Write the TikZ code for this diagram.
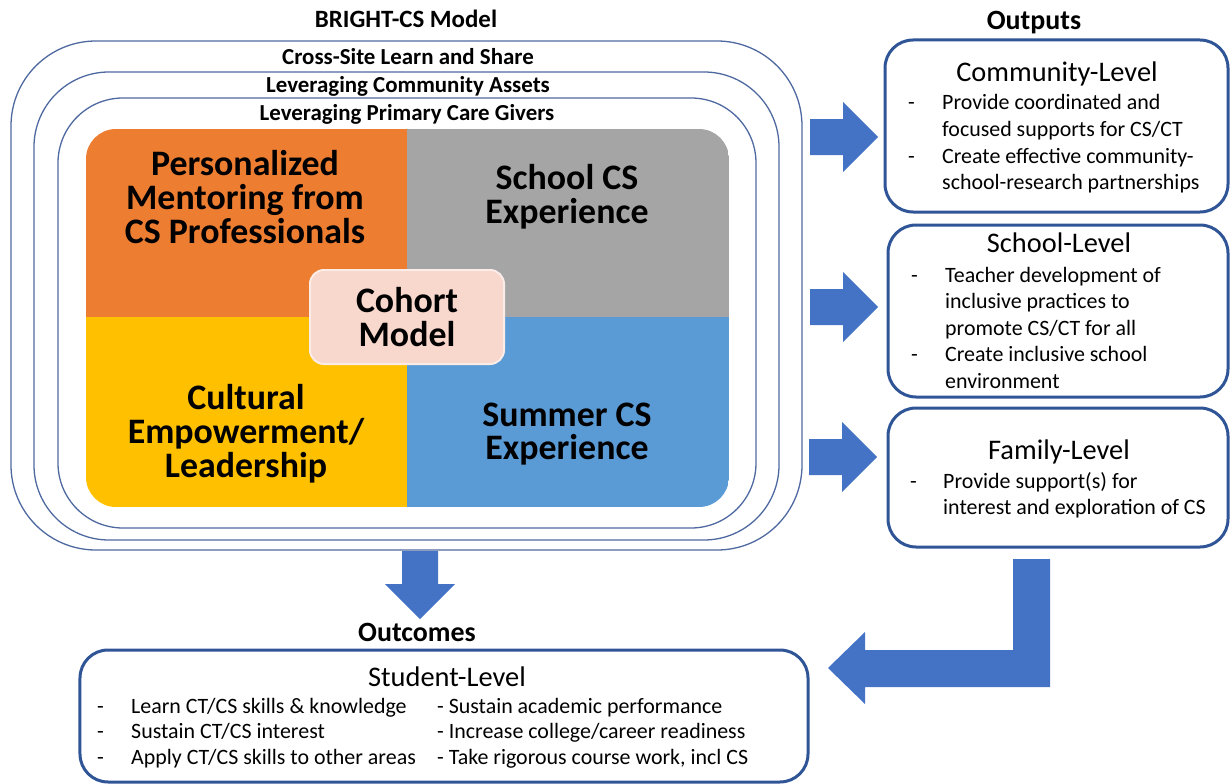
\documentclass[tikz,border=0pt]{standalone}
\usepackage{fontspec}
\setmainfont{Carlito}
\usepackage{array}

\definecolor{ringline}{RGB}{78,104,160}
\definecolor{boxline}{RGB}{47,85,151}
\definecolor{arrowblue}{RGB}{68,114,196}
\definecolor{mentorc}{RGB}{237,125,49}
\definecolor{schoolc}{RGB}{165,165,165}
\definecolor{culturec}{RGB}{255,192,0}
\definecolor{summerc}{RGB}{91,155,213}
\definecolor{cohortc}{RGB}{248,215,205}

\newcommand{\txtsize}[2]{\fontsize{#1}{#2}\selectfont}

\begin{document}
\begin{tikzpicture}[x=1bp,y=-1bp,
  ring/.style={draw=ringline,line width=1.3bp,rounded corners=#1,inner sep=0pt},
  outbox/.style={draw=boxline,line width=3bp,rounded corners=28bp,inner sep=0pt},
  headlbl/.style={font=\bfseries\txtsize{25}{28},anchor=base,inner sep=0pt},
  striplbl/.style={font=\bfseries\txtsize{23}{26},anchor=base,inner sep=0pt},
  quadlbl/.style={font=\bfseries\txtsize{36}{34},align=center,inner sep=0pt},
  boxtitle/.style={font=\txtsize{28.5}{31},anchor=base,inner sep=0pt},
  listlbl/.style={font=\txtsize{22}{26.7},anchor=base west,inner sep=0pt},
  rarrow/.pic={\fill[arrowblue] (-34,-18) -- (-1,-18) -- (-1,-35) -- (34,0)
    -- (-1,35) -- (-1,18) -- (-34,18) -- cycle;}]
\useasboundingbox (0,0) rectangle (1230,784);

% headings
\node[headlbl] (modelhead) at (406,28) {BRIGHT-CS Model};
\node[headlbl,font=\bfseries\txtsize{28}{30}] (outhead) at (1034,30) {Outputs};
\node[headlbl,font=\bfseries\txtsize{28}{30}] (outchead) at (417,641) {Outcomes};

% nested rings round the model
\node[ring=85bp,minimum width=791bp,minimum height=509bp] (cross) at (406.5,295.5) {};
\node[ring=75bp,minimum width=745bp,minimum height=468bp] (assets) at (406.5,306) {};
\node[ring=65bp,minimum width=698bp,minimum height=430bp] (carers) at (407,313) {};
\node[striplbl] (crosslbl) at (408,65) {Cross-Site Learn and Share};
\node[striplbl] (assetslbl) at (408,93) {Leveraging Community Assets};
\node[striplbl] (carerslbl) at (407,121) {Leveraging Primary Care Givers};

% the four quadrants
\begin{scope}
  \clip[rounded corners=30bp] (86,129) rectangle (729,507);
  \fill[mentorc] (86,129) rectangle (407,317);
  \fill[schoolc] (407,129) rectangle (729,317);
  \fill[culturec] (86,317) rectangle (407,507);
  \fill[summerc] (407,317) rectangle (729,507);
\end{scope}
\node[quadlbl] (mentor) at (245,197) {Personalized\\Mentoring from\\CS Professionals};
\node[quadlbl] (school) at (567,197) {School CS\\Experience};
\node[quadlbl] (culture) at (246,434) {Cultural\\Empowerment/\\Leadership};
\node[quadlbl] (summer) at (567,434) {Summer CS\\Experience};
\node[quadlbl,fill=cohortc,draw={rgb,255:red,252;green,236;blue,231},line width=2bp,
  rounded corners=14bp,minimum width=194bp,minimum height=94bp] (cohort) at (407,317) {Cohort\\Model};

% outputs
\node[outbox,minimum width=343bp,minimum height=172bp] (commbox) at (1056.5,126) {};
\node[boxtitle] (commttl) at (1057,82) {Community-Level};
\node[listlbl] (commlist) at (908,110) {\begin{tabular}[t]{@{}p{34bp}@{}l@{}}
  - & Provide coordinated and\\
    & focused supports for CS/CT\\
  - & Create effective community-\\
    & school-research partnerships
\end{tabular}};

\node[outbox,minimum width=340bp,minimum height=172bp] (schoolbox) at (1058,311) {};
\node[boxtitle] (schoolttl) at (1059,252) {School-Level};
\node[listlbl] (schoollist) at (911,282) {\begin{tabular}[t]{@{}p{34bp}@{}l@{}}
  - & Teacher development of\\
    & inclusive practices to\\
    & promote CS/CT for all\\
  - & Create inclusive school\\
    & environment
\end{tabular}};

\node[outbox,minimum width=340bp,minimum height=139bp] (familybox) at (1058,477.5) {};
\node[boxtitle] (familyttl) at (1059,459) {Family-Level};
\node[listlbl] (familylist) at (910,488) {\begin{tabular}[t]{@{}p{33bp}@{}l@{}}
  - & Provide support(s) for\\
    & interest and exploration of CS
\end{tabular}};

% outcomes
\node[outbox,minimum width=728bp,minimum height=132bp] (studentbox) at (444,716) {};
\node[boxtitle] (studentttl) at (447,686) {Student-Level};
\node[listlbl,font=\txtsize{22}{26}] (studentlist) at (97,713) {\begin{tabular}[t]{@{}p{34bp}@{}p{306bp}@{}l@{}}
  - & Learn CT/CS skills \& knowledge & - Sustain academic performance\\
  - & Sustain CT/CS interest & - Increase college/career readiness\\
  - & Apply CT/CS skills to other areas & - Take rigorous course work, incl CS
\end{tabular}};

% block arrows
\pic at (844,137) {rarrow};
\pic at (844,307) {rarrow};
\pic at (843,457) {rarrow};
\pic[rotate=-90] at (420,585) {rarrow};
\fill[arrowblue] (1013,559) -- (1050,559) -- (1050,687) -- (865,687) -- (865,704)
  -- (828,668) -- (865,632) -- (865,650) -- (1013,650) -- cycle;
\end{tikzpicture}
\end{document}
